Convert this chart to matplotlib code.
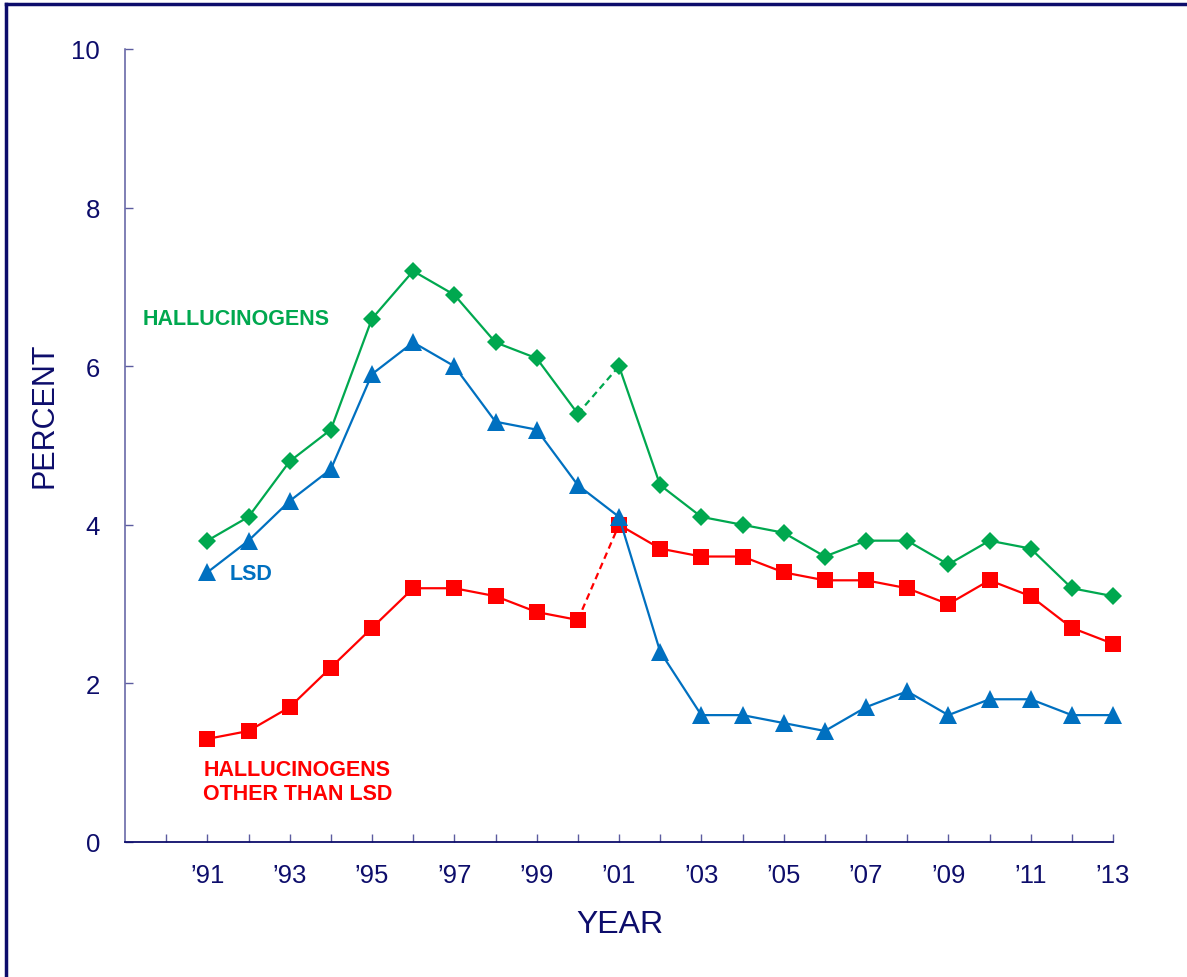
import matplotlib
matplotlib.use("Agg")
import matplotlib.pyplot as plt
from matplotlib.lines import Line2D

plt.rcParams['font.family'] = ['Liberation Sans', 'DejaVu Sans']

years = list(range(1991, 2014))
hallucinogens = [3.8, 4.1, 4.8, 5.2, 6.6, 7.2, 6.9, 6.3, 6.1, 5.4, 6.0, 4.5, 4.1,
                 4.0, 3.9, 3.6, 3.8, 3.8, 3.5, 3.8, 3.7, 3.2, 3.1]
lsd = [3.4, 3.8, 4.3, 4.7, 5.9, 6.3, 6.0, 5.3, 5.2, 4.5, 4.1, 2.4, 1.6,
       1.6, 1.5, 1.4, 1.7, 1.9, 1.6, 1.8, 1.8, 1.6, 1.6]
other_than_lsd = [1.3, 1.4, 1.7, 2.2, 2.7, 3.2, 3.2, 3.1, 2.9, 2.8, 4.0, 3.7, 3.6,
                  3.6, 3.4, 3.3, 3.3, 3.2, 3.0, 3.3, 3.1, 2.7, 2.5]
yticks = [0, 2, 4, 6, 8, 10]
xtick_years = list(range(1990, 2014))
xlabel_years = list(range(1991, 2014, 2))

NAVY = '#0d0d6b'
GREEN = '#00a84f'
BLUE = '#0070c0'
RED = '#ff0000'

W, H = 1187, 978
fig = plt.figure(figsize=(W / 100, H / 100), dpi=100)
ax = fig.add_axes([125 / W, 1 - 843 / H, (1113 - 125) / W, (843 - 50) / H])

def plot_series(vals, color, marker, ms, dashed_gap, z):
    brk = years.index(2000)
    if dashed_gap:
        ax.plot(years[:brk + 1], vals[:brk + 1], color=color, lw=1.6, zorder=z)
        ax.plot(years[brk:brk + 2], vals[brk:brk + 2], color=color, lw=1.6,
                ls=(0, (3, 2)), zorder=z)
        ax.plot(years[brk + 1:], vals[brk + 1:], color=color, lw=1.6, zorder=z)
    else:
        ax.plot(years, vals, color=color, lw=1.6, zorder=z)
    ax.plot(years, vals, ls='none', marker=marker, ms=ms, color=color,
            markeredgewidth=0, zorder=z + 0.5, clip_on=False)

plot_series(other_than_lsd, RED, 's', 11.5, True, 2)
plot_series(hallucinogens, GREEN, 'D', 9.5, True, 3)
plot_series(lsd, BLUE, '^', 12.5, False, 4)

ax.set_xlim(1989, 2013)
ax.set_ylim(0, 10)
ax.set_yticks(yticks)
ax.set_yticklabels([str(v) for v in yticks])
ax.set_xticks(xtick_years)
ax.set_xticklabels(['\u2019' + str(y)[2:] if y in xlabel_years else '' for y in xtick_years])

for s in ['top', 'right']:
    ax.spines[s].set_visible(False)
ax.spines['left'].set_color('#5c5ca0')
ax.spines['bottom'].set_color(NAVY)
ax.spines['left'].set_linewidth(1.1)
ax.spines['bottom'].set_linewidth(1.3)
ax.tick_params(axis='y', direction='in', length=6, width=1, color='#5c5ca0',
               labelsize=18.5, labelcolor=NAVY, pad=18)
ax.tick_params(axis='x', direction='in', length=6, width=1, color='#5c5ca0',
               labelsize=18.5, labelcolor=NAVY, pad=15)

ax.text(1989.44, 6.6, 'HALLUCINOGENS', color=GREEN, fontsize=15.5,
        fontweight='bold', ha='left', va='center')
ax.text(1991.53, 3.38, 'LSD', color=BLUE, fontsize=15.5,
        fontweight='bold', ha='left', va='center')
ax.text(1990.9, 0.76, 'HALLUCINOGENS\nOTHER THAN LSD', color=RED, fontsize=15.5,
        fontweight='bold', ha='left', va='center', linespacing=1.2)

fig.text(45 / W, 1 - 415 / H, 'PERCENT', rotation=90, color=NAVY, fontsize=22,
         ha='center', va='center')
fig.text(620 / W, 1 - 925 / H, 'YEAR', color=NAVY, fontsize=23,
         ha='center', va='center')

# frame border (top and left)
fig.add_artist(Line2D([6 / W, 6 / W], [0, 1 - 5 / H], transform=fig.transFigure,
                      color=NAVY, lw=2.5))
fig.add_artist(Line2D([6 / W, 1], [1 - 5 / H, 1 - 5 / H], transform=fig.transFigure,
                      color=NAVY, lw=2.5))

fig.savefig('out.png', dpi=100)
